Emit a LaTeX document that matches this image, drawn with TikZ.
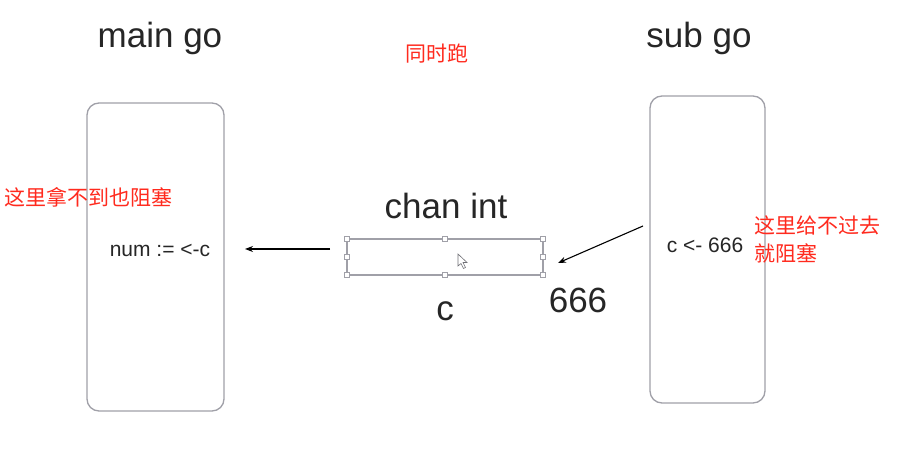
\documentclass[tikz,border=0pt]{standalone}
\usepackage{fontspec}
\setmainfont{Liberation Sans}
\newfontfamily\cjk{Noto Sans CJK SC}
\usetikzlibrary{arrows.meta}
\definecolor{ink}{HTML}{262626}
\definecolor{frame}{HTML}{A0A0A8}
\definecolor{note}{HTML}{FF2A1E}
\begin{document}
\begin{tikzpicture}[x=1pt,y=-1pt,
  gobox/.style={draw=frame,line width=1.3pt,rounded corners=12pt},
  big/.style={text=ink,font=\fontsize{35}{38}\selectfont,inner sep=0pt},
  code/.style={text=ink,font=\fontsize{21}{24}\selectfont,inner sep=0pt},
  rednote/.style={text=note,font=\cjk\fontsize{21}{28}\selectfont,inner sep=0pt,align=left},
  handle/.style={draw=frame,fill=white,line width=0.7pt,minimum size=5pt,inner sep=0pt},
  flow/.style={draw=black,line width=1.1pt,-{Stealth[length=8pt,width=6pt]}}]
\useasboundingbox (0,0) rectangle (898,470);
\fill[white] (0,0) rectangle (898,470);
% boxes
\draw[gobox] (87,103) rectangle (224,411);
\draw[gobox] (650,96) rectangle (765,403);
% titles
\node[big] (maintitle) at (160,38) {main go};
\node[big] (subtitle) at (699,38) {sub go};
\node[rednote] (same) at (437,54) {同时跑};
% channel
\node[big] (chan) at (446,206) {chan int};
\draw[draw=frame,line width=1.2pt] (347,239) rectangle (543,275);
\coordinate (chL) at (347,257);
\coordinate (chR) at (543,257);
\foreach \p in {(347,239),(445,239),(543,239),(347,257),(543,257),(347,275),(445,275),(543,275)}
  \node[handle] at \p {};
% cursor
\draw[draw=frame!70!black,fill=white,line width=0.6pt] (458,254) -- (458,266) -- (461,263.5) -- (463.5,268.5) -- (465.5,267.5) -- (463,262.5) -- (467,262.5) -- cycle;
\node[big] (clabel) at (445,311) {c};
\node[big] (six) at (578,300) {666};
% code texts
\node[code] (num) at (160,250) {num := <-c};
\node[code] (send) at (705,245) {c <- 666};
% notes
\node[rednote,anchor=west] (leftnote) at (4,197) {这里拿不到也阻塞};
\node[rednote,anchor=north west] (rightnote) at (754,216) {这里给不过去\\就阻塞};
% arrows
\coordinate (a1s) at (330,249);
\coordinate (a1e) at (245,249);
\draw[flow] (a1s) -- (a1e);
\coordinate (a2s) at (643,226);
\coordinate (a2e) at (558,263);
\draw[flow] (a2s) -- (a2e);
\end{tikzpicture}
\end{document}
